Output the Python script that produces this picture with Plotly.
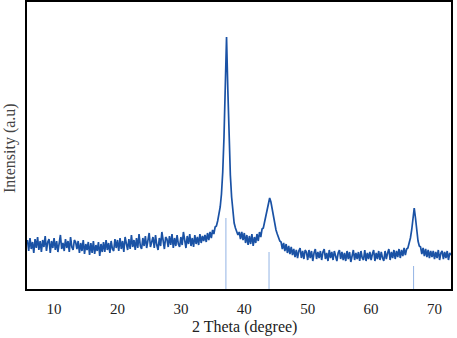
import numpy as np
import plotly.graph_objects as go

# XRD scan: 2-theta from 5.8 deg in 0.2 deg steps, intensity in arbitrary units
scan_start = 5.8
scan_step = 0.2
intensity = [
    49, 38, 51, 40, 47, 36, 50, 41, 52, 39,   # 5.8 - 7.6
    48, 37, 49, 42, 53, 38, 47, 50, 36, 48,   # 7.8 - 9.6
    41, 51, 39, 48, 37, 49, 54, 40, 46, 38,   # 9.8 - 11.6
    50, 41, 48, 37, 52, 42, 39, 49, 47, 40,   # 11.8 - 13.6
    48, 36, 46, 38, 49, 35, 45, 39, 47, 34,   # 13.8 - 15.6
    46, 36, 48, 35, 44, 38, 47, 33, 45, 37,   # 15.8 - 17.6
    47, 37, 49, 39, 46, 36, 48, 40, 38, 50,   # 17.8 - 19.6
    41, 49, 38, 51, 40, 48, 37, 52, 46, 39,   # 19.8 - 21.6
    50, 40, 54, 42, 49, 39, 51, 41, 55, 43,   # 21.8 - 23.6
    40, 51, 43, 53, 41, 50, 56, 42, 49, 52,   # 23.8 - 25.6
    41, 54, 44, 39, 51, 43, 57, 45, 40, 52,   # 25.8 - 27.6
    50, 42, 53, 44, 55, 41, 51, 43, 54, 45,   # 27.8 - 29.6
    42, 52, 44, 57, 50, 41, 53, 45, 55, 43,   # 29.8 - 31.6
    51, 42, 54, 45, 52, 44, 55, 46, 53, 48,   # 31.8 - 33.6
    54, 47, 56, 49, 57, 51, 59, 55, 62, 63,   # 33.8 - 35.6
    68, 74, 82, 95, 117, 152, 206, 252, 200, 150,  # 35.8 - 37.6
    114, 92, 76, 66, 61, 58, 54, 57, 50, 57,  # 37.8 - 39.6
    49, 56, 46, 54, 44, 53, 45, 55, 43, 52,   # 39.8 - 41.6
    46, 55, 48, 57, 52, 60, 61, 67, 73, 81,   # 41.8 - 43.6
    88, 91, 87, 79, 71, 64, 59, 55, 51, 48,   # 43.8 - 45.6
    47, 40, 46, 38, 45, 36, 43, 35, 42, 34,   # 45.8 - 47.6
    40, 32, 39, 31, 38, 41, 31, 38, 30, 39,   # 47.8 - 49.6
    37, 29, 39, 31, 38, 28, 36, 40, 30, 37,   # 49.8 - 51.6
    31, 38, 29, 37, 40, 30, 36, 28, 39, 31,   # 51.8 - 53.6
    37, 29, 38, 31, 28, 36, 39, 30, 37, 29,   # 53.8 - 55.6
    36, 28, 38, 30, 37, 27, 35, 39, 29, 36,   # 55.8 - 57.6
    30, 37, 28, 38, 31, 29, 39, 28, 36, 30,   # 57.8 - 59.6
    37, 29, 35, 39, 28, 36, 30, 38, 29, 37,   # 59.8 - 61.6
    31, 28, 38, 30, 36, 40, 29, 37, 31, 39,   # 61.8 - 63.6
    30, 38, 32, 40, 31, 39, 33, 41, 34, 40,   # 63.8 - 65.6
    41, 45, 51, 59, 69, 81, 71, 57, 48, 43,   # 65.8 - 67.6
    42, 35, 41, 33, 40, 32, 39, 31, 38, 32,   # 67.8 - 69.6
    38, 30, 37, 31, 39, 29, 36, 38, 30, 37,   # 69.8 - 71.6
    31, 38, 29, 36, 34,                       # 71.8 - 72.6
]

# Reference pattern sticks
ref_positions = [37.1, 43.9, 66.7]
ref_heights = [71, 37, 23]

x_ticks = [10, 20, 30, 40, 50, 60, 70]
x_range = [5.73, 72.6]
y_range = [0, 287]

two_theta = np.round(scan_start + scan_step * np.arange(len(intensity)), 2)

fig = go.Figure()

# reference sticks
stick_x, stick_y = [], []
for p, h in zip(ref_positions, ref_heights):
    stick_x += [p, p, None]
    stick_y += [0, h, None]
fig.add_trace(go.Scatter(x=stick_x, y=stick_y, mode="lines",
                         line=dict(color="#93b4e4", width=1),
                         hoverinfo="skip", showlegend=False))

fig.add_trace(go.Scatter(x=two_theta, y=intensity, mode="lines",
                         line=dict(color="#1a52a5", width=1.7),
                         showlegend=False))

fig.update_layout(
    width=457, height=338,
    margin=dict(l=27, r=6, t=2, b=49, autoexpand=False),
    paper_bgcolor="white", plot_bgcolor="white",
    font=dict(family="Liberation Serif", size=15, color="#222"),
    xaxis=dict(range=x_range, tickvals=x_ticks, ticks="",
               showgrid=False, zeroline=False, automargin=False,
               showline=True, linecolor="black", linewidth=2, mirror=True,
               ticklabelstandoff=5,
               tickfont=dict(family="Liberation Serif", size=15, color="#222")),
    yaxis=dict(range=y_range, showticklabels=False, ticks="",
               showgrid=False, zeroline=False, automargin=False,
               showline=True, linecolor="black", linewidth=2, mirror=True),
    annotations=[
        dict(text="2 Theta (degree)", xref="paper", yref="paper",
             x=0.514, y=0, yshift=-38, xanchor="center", yanchor="middle",
             showarrow=False, font=dict(family="Liberation Serif", size=16, color="#222")),
        dict(text="Intensity (a.u)", xref="paper", yref="paper",
             x=0, y=0.491, xshift=-17, xanchor="center", yanchor="middle",
             textangle=-90, showarrow=False,
             font=dict(family="Liberation Serif", size=16, color="#444")),
    ],
)

fig.write_html("out.html", config={"displayModeBar": False},
               post_script="document.body.style.margin='0';document.body.style.overflow='hidden';")
